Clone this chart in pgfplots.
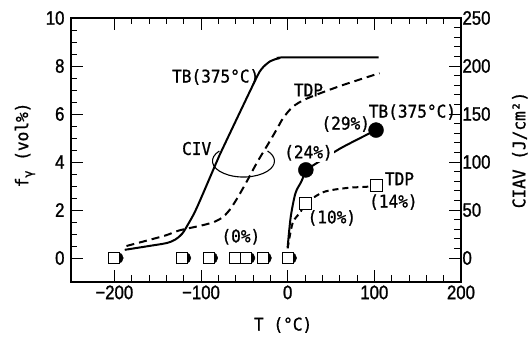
\documentclass[border=0pt]{standalone}
\usepackage{fontspec}
\usepackage{pgfplots}
\pgfplotsset{compat=1.18}
\setmainfont{Liberation Sans}
\newfontfamily\tickfont[FakeStretch=0.86, FakeBold=1.2]{Liberation Sans}
\newfontfamily\labfont[FakeStretch=0.92, FakeBold=1.0]{DejaVu Sans Mono}
\newcommand{\tf}{\tickfont\fontsize{19.5}{21}\selectfont}
\newcommand{\lf}{\labfont\fontsize{17.5}{19}\selectfont}
\pgfplotsset{
  common/.style={
    scale only axis, width=390pt, height=264pt,
    xmin=-250, xmax=200,
    tick align=inside,
    tick style={black, line width=0.9pt},
    major tick length=12pt, minor tick length=6.5pt,
    axis line style={line width=1.3pt},
    ticklabel style={font=\tf},
    /pgf/number format/assume math mode=true,
    clip=false,
  }
}
\begin{document}
\begin{tikzpicture}
\path (-71pt,-58pt) rectangle (460pt,282pt);
% ---------- left axis: f_gamma (vol%) ----------
\begin{axis}[common,
  ymin=-1, ymax=10,
  xtick={-200,-100,0,100,200}, xticklabels={−200,−100,0,100,200},
  ytick={0,2,4,6,8,10},
  minor x tick num=4, minor y tick num=3,
  ytick pos=left,
  yticklabel style={xshift=-3pt},
]
% TB small curve (to first filled circle)
\addplot[line width=2pt, smooth] coordinates {(0,0.45) (3.5,1.7) (9,2.7) (16,3.2) (21,3.67)};
\addplot[line width=2pt, smooth] coordinates {(21,3.67) (40,4.1) (60,4.55) (80,4.93) (102,5.33)};
% TDP small dashed curve
\addplot[line width=2pt, dash pattern=on 6pt off 4pt, smooth] coordinates {(0,0.4) (5.8,1.46) (15,1.92) (21,2.28) (41.6,2.75) (69,2.92) (92,2.97) (102,3.04)};
% TB markers at f = 0 (behind squares)
\addplot[only marks, mark=*, mark size=5.5pt] coordinates {(-196,0) (-118,0) (-87,0) (-57,0) (-44,0) (-25,0) (4,0)};
% TDP markers at f = 0
\addplot[only marks, mark=square*, mark size=5.5pt, mark options={fill=white, draw=black, line width=0.9pt}] coordinates {(-200,0) (-122,0) (-91,0) (-61,0) (-48,0) (-29,0) (0,0)};
% TB filled circles
\addplot[only marks, mark=*, mark size=7.5pt] coordinates {(21,3.67) (102,5.33)};
% TDP open squares
\addplot[only marks, mark=square*, mark size=6pt, mark options={fill=white, draw=black, line width=0.9pt}] coordinates {(21,2.28) (102,3.04)};
% labels
\node[font=\lf] at (axis cs:-54,0.88) {(0\%)};
\node[font=\lf, fill=white, inner sep=1pt] at (axis cs:24,4.38) {(24\%)};
\node[font=\lf] at (axis cs:67,5.58) {(29\%)};
\node[font=\lf] at (axis cs:144,6.08) {TB(375°C)};
\node[font=\lf] at (axis cs:129,3.3) {TDP};
\node[font=\lf] at (axis cs:122,2.33) {(14\%)};
\node[font=\lf] at (axis cs:51,1.67) {(10\%)};
% axis labels
\node[font=\lf, rotate=90] at (rel axis cs:-0.118,0.519) {f\raisebox{-0.45ex}{\labfont\fontsize{13}{13}\selectfont γ} (vol\%)};
\node[font=\lf] at (rel axis cs:0.544,-0.163) {T (°C)};
\end{axis}
% ---------- right axis: CIAV (J/cm^2) ----------
\begin{axis}[common,
  ymin=-25, ymax=250,
  axis x line=none, axis y line*=right,
  ytick={0,50,100,150,200,250},
  minor y tick num=4,
  yticklabel style={xshift=-2pt},
]
% TB(375C) CIV curve
\addplot[line width=2pt, smooth] coordinates {(-188,8.5) (-160,12.5) (-140,15.5) (-130,19) (-122,25) (-115,35) (-105,52) (-82,100) (-75,114) (-38,184) (-30,197) (-20,205) (-10,208) (0,209) (105,209)};
% TDP CIV curve
\addplot[line width=2pt, dash pattern=on 8pt off 5pt, smooth] coordinates {(-186,12.5) (-160,18.75) (-140,23.75) (-125,28.75) (-100,33.75) (-85,37.5) (-75,42.5) (-67,50) (-58,62.5) (-47,80) (-35,100) (-21,121) (-12,135) (-5,146) (6,157.5) (22,166) (60,179) (106,192.5)};
% CIV ellipse
\draw[line width=1.1pt] (axis cs:-51,101) ++(141:31pt and 16pt) arc[start angle=141, end angle=399, x radius=31pt, y radius=16pt];
\node[font=\lf] at (axis cs:-83,188.5) {TB(375°C)};
\node[font=\lf] at (axis cs:24,175) {TDP};
\node[font=\lf] at (axis cs:-105,114) {CIV};
\node[font=\lf, rotate=90] at (rel axis cs:1.151,0.5) {CIAV (J/cm²)};
\end{axis}
\end{tikzpicture}
\end{document}
